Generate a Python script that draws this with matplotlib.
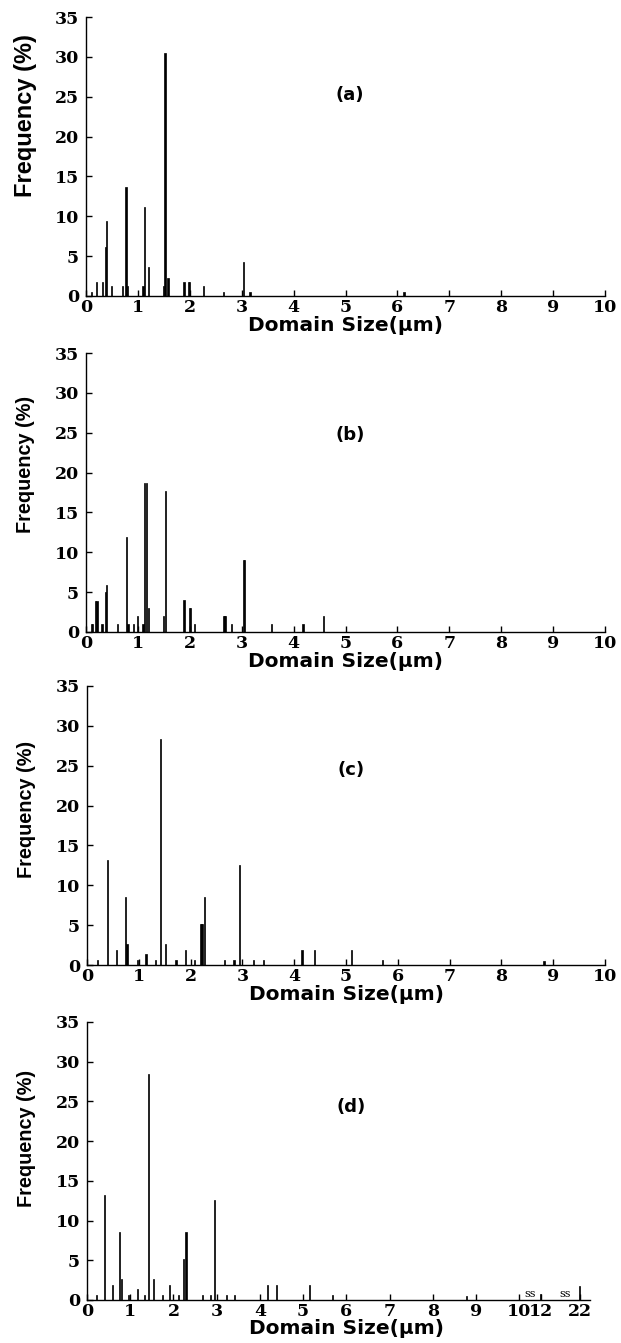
import numpy as np
import matplotlib
matplotlib.use('Agg')
import matplotlib.pyplot as plt
from matplotlib import font_manager

# domain size (um) / frequency (%)
a_size = [0.11, 0.20, 0.32, 0.38, 0.40, 0.49, 0.70, 0.77, 0.80, 1.10, 1.13, 1.20,
          1.49, 1.52, 1.58, 1.89, 1.97, 2.00, 2.27, 2.65, 3.03, 3.16, 6.13]
a_freq = [0.5, 1.8, 1.8, 6.2, 9.4, 1.2, 1.2, 13.7, 1.2, 1.2, 11.2, 3.7,
          1.2, 30.5, 2.3, 1.8, 1.8, 1.8, 1.2, 0.5, 4.3, 0.5, 0.5]

b_size = [0.10, 0.12, 0.18, 0.21, 0.31, 0.37, 0.39, 0.61, 0.78, 0.81, 0.91, 0.99,
          1.10, 1.13, 1.16, 1.21, 1.50, 1.53, 1.89, 1.99, 2.02, 2.09, 2.66, 2.68,
          2.80, 3.03, 3.05, 3.58, 4.18, 4.57]
b_freq = [1.0, 1.0, 3.9, 3.9, 1.0, 5.0, 5.9, 1.0, 11.9, 1.0, 1.0, 2.0,
          1.0, 18.7, 18.7, 3.0, 2.0, 17.7, 4.0, 3.0, 3.0, 1.0, 2.0, 2.0,
          1.0, 9.0, 9.0, 1.0, 1.0, 2.0]

c_size = [0.20, 0.39, 0.57, 0.75, 0.77, 0.97, 1.14, 1.32, 1.42, 1.52, 1.72, 1.90,
          2.08, 2.20, 2.22, 2.27, 2.66, 2.84, 2.94, 3.22, 3.41, 4.15, 4.39, 5.11,
          5.70, 8.82]
c_freq = [0.6, 13.2, 1.9, 8.5, 2.6, 0.6, 1.4, 0.6, 28.4, 2.6, 0.6, 1.9,
          0.6, 5.1, 5.1, 8.5, 0.6, 0.6, 12.5, 0.6, 0.6, 1.9, 1.9, 1.9,
          0.6, 0.5]

d_size = [0.22, 0.41, 0.58, 0.76, 0.79, 0.96, 1.16, 1.34, 1.43, 1.53, 1.74, 1.91,
          2.11, 2.23, 2.29, 2.68, 2.86, 2.96, 3.23, 3.42, 4.17, 4.39, 5.15, 5.67,
          8.77, 12, 22]
d_freq = [0.6, 13.2, 1.9, 8.5, 2.6, 0.6, 1.4, 0.6, 28.4, 2.6, 0.6, 1.9,
          0.6, 5.2, 8.5, 0.6, 0.6, 12.6, 0.6, 0.6, 1.9, 1.9, 1.9, 0.6,
          0.5, 0.8, 1.8]

panel_names = ['(a)', '(b)', '(c)', '(d)']
y_ticks = [0, 5, 10, 15, 20, 25, 30, 35]
x_ticks = [0, 1, 2, 3, 4, 5, 6, 7, 8, 9, 10]
d_x_ticks = [0, 1, 2, 3, 4, 5, 6, 7, 8, 9, 10, 12, 22]

# broken axis in (d): 10 -> 12 -> 22 squeezed together
brk_real = [0, 10, 12, 22]
brk_pos = [0, 10, 10.5, 11.4]


def d_pos(x):
    return np.interp(x, brk_real, brk_pos)


installed = {f.name for f in font_manager.fontManager.ttflist}
if 'Liberation Sans Narrow' in installed:
    narrow, narrow_size = 'Liberation Sans Narrow', 17.5
else:
    narrow, narrow_size = 'Liberation Sans', 14.3

fig = plt.figure(figsize=(6.21, 13.43), dpi=100)
W, H = 621, 1343

# pixel boxes (left, bottom-of-axis y, top y) for each panel
boxes = [(86, 296, 17), (86, 632, 353), (87, 965, 686), (87, 1300, 1022)]
ylab_frac = [0.645, 0.60, 0.556, 0.58]
ylab_size = [17, narrow_size, narrow_size, narrow_size]
ylab_font = ['Liberation Sans', narrow, narrow, narrow]
lab_frac = [0.72, 0.707, 0.70, 0.694]

data = [(a_size, a_freq), (b_size, b_freq), (c_size, c_freq), (d_size, d_freq)]

tick_font = dict(family='DejaVu Serif', weight='bold', size=12.5)

for i, (left, ybot, ytop) in enumerate(boxes):
    ax = fig.add_axes([left / W, 1 - ybot / H, (605 - left) / W, (ybot - ytop) / H])
    size, freq = data[i]
    if i == 3:
        xs = d_pos(np.array(size, dtype=float))
        ax.set_xlim(0, (605 - 87.3) / 43.2)
        ax.set_xticks(d_pos(np.array(d_x_ticks, dtype=float)))
        ax.set_xticklabels([str(t) for t in d_x_ticks])
        ax.spines['bottom'].set_bounds(0, 11.63)
        for bx in [10.25, 11.05]:
            ax.text(bx, 0.1, 'ss', fontsize=8, ha='center', va='bottom',
                    family='DejaVu Serif')
    else:
        xs = np.array(size)
        ax.set_xlim(0, 10)
        ax.set_xticks(x_ticks)
        ax.set_xticklabels([str(t) for t in x_ticks])
    ax.bar(xs, freq, width=0.025, color='black', edgecolor='black', linewidth=0.5)
    ax.set_ylim(0, 35)
    ax.set_yticks(y_ticks)
    ax.set_yticklabels([str(t) for t in y_ticks])
    for s in ['top', 'right']:
        ax.spines[s].set_visible(False)
    for s in ['left', 'bottom']:
        ax.spines[s].set_linewidth(1.0)
    ax.tick_params(direction='in', length=4, width=1, pad=2)
    ax.tick_params(axis='y', pad=5)
    for lab in ax.get_xticklabels() + ax.get_yticklabels():
        lab.set_fontproperties(font_manager.FontProperties(**tick_font))

    ax.text(-0.116, ylab_frac[i], 'Frequency (%)', transform=ax.transAxes,
            rotation=90, ha='center', va='center', fontsize=ylab_size[i],
            fontweight='bold', family=[ylab_font[i]])
    ax.text(0.5, -0.104, 'Domain Size(\u03bcm)', transform=ax.transAxes,
            ha='center', va='center', fontsize=14.5, fontweight='bold',
            family='DejaVu Sans')
    ax.text(0.509, lab_frac[i], panel_names[i], transform=ax.transAxes,
            ha='center', va='center', fontsize=13, fontweight='bold',
            family='DejaVu Sans')

fig.savefig('out.png', dpi=100)
